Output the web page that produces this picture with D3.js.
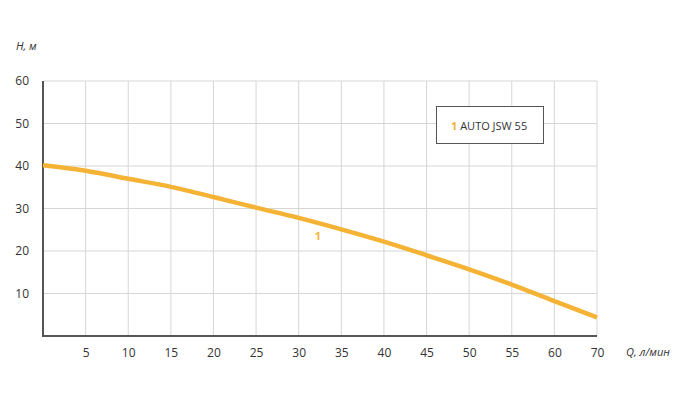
<!DOCTYPE html>
<html><head><meta charset="utf-8">
<script src="https://cdn.jsdelivr.net/npm/d3@7"></script>
<style>body{margin:0;background:#fff}text{font-family:"Open Sans",sans-serif}</style>
</head><body><div id="chart"></div>
<script>
// подписи оси Q в том виде, как на графике (после 60 идёт 70)
const flowLabels = ["0", "5", "10", "15", "20", "25", "30", "35", "40", "45", "50", "55", "60", "70"];
const head = [40.2, 38.9, 37, 35.1, 32.7, 30.2, 27.8, 25.1, 22.2, 19, 15.7, 12.1, 8.2, 4.4];
const yTicks = [10, 20, 30, 40, 50, 60];

const svg = d3.select("#chart").append("svg").attr("width", 686).attr("height", 400);
const x = d3.scalePoint().domain(flowLabels).range([43, 597]);
const y = d3.scaleLinear().domain([0, 60]).range([336, 81]);
const orange = "#f5b335";
const xTicks = flowLabels.slice(1);

// сетка
svg.append("g").selectAll("line").data(xTicks).join("line")
    .attr("x1", d => x(d)).attr("x2", d => x(d)).attr("y1", y(60)).attr("y2", y(0))
    .attr("stroke", "#d6d6d6");
svg.append("g").selectAll("line").data(yTicks).join("line")
    .attr("x1", x("0")).attr("x2", x("70")).attr("y1", d => y(d)).attr("y2", d => y(d))
    .attr("stroke", "#d6d6d6");

// оси
const xAxis = svg.append("g").attr("transform", `translate(0,${y(0)})`)
    .call(d3.axisBottom(x).tickValues(xTicks).tickSize(0).tickPadding(12));
const yAxis = svg.append("g").attr("transform", `translate(${x("0")},0)`)
    .call(d3.axisLeft(y).tickValues(yTicks).tickSize(0).tickPadding(14));
[xAxis, yAxis].forEach(a => {
    a.select(".domain").attr("stroke", "#555").attr("stroke-width", 2);
    a.selectAll("text").attr("font-size", 12).attr("fill", "#333").attr("font-family", "Open Sans");
});
xAxis.select(".domain").attr("d", `M${x("0")},0H${x("70")}`);
yAxis.select(".domain").attr("d", `M0,${y(60)}V${y(0) + 1}`);

svg.append("text").attr("x", 16).attr("y", 50).attr("font-size", 11).attr("font-style", "italic")
    .attr("fill", "#333").text("H, м");
svg.append("text").attr("x", 626).attr("y", 356).attr("font-size", 11).attr("font-style", "italic")
    .attr("fill", "#333").text("Q, л/мин");

// кривая
const line = d3.line().x((d, i) => x(flowLabels[i])).y(d => y(d)).curve(d3.curveMonotoneX);
svg.append("path").datum(head).attr("d", line).attr("fill", "none")
    .attr("stroke", orange).attr("stroke-width", 4.5);

svg.append("text").attr("x", 318).attr("y", y(23.5) + 4).attr("text-anchor", "middle")
    .attr("font-size", 11).attr("font-weight", "bold").attr("fill", orange).text("1");

// легенда
svg.append("rect").attr("x", 436.5).attr("y", 106.5).attr("width", 107).attr("height", 37)
    .attr("fill", "#fff").attr("stroke", "#555");
const lt = svg.append("text").attr("x", 451).attr("y", 130).attr("font-size", 11).attr("fill", "#333");
lt.append("tspan").attr("fill", orange).attr("font-weight", "bold").text("1 ");
lt.append("tspan").text("AUTO JSW 55");
</script></body></html>
